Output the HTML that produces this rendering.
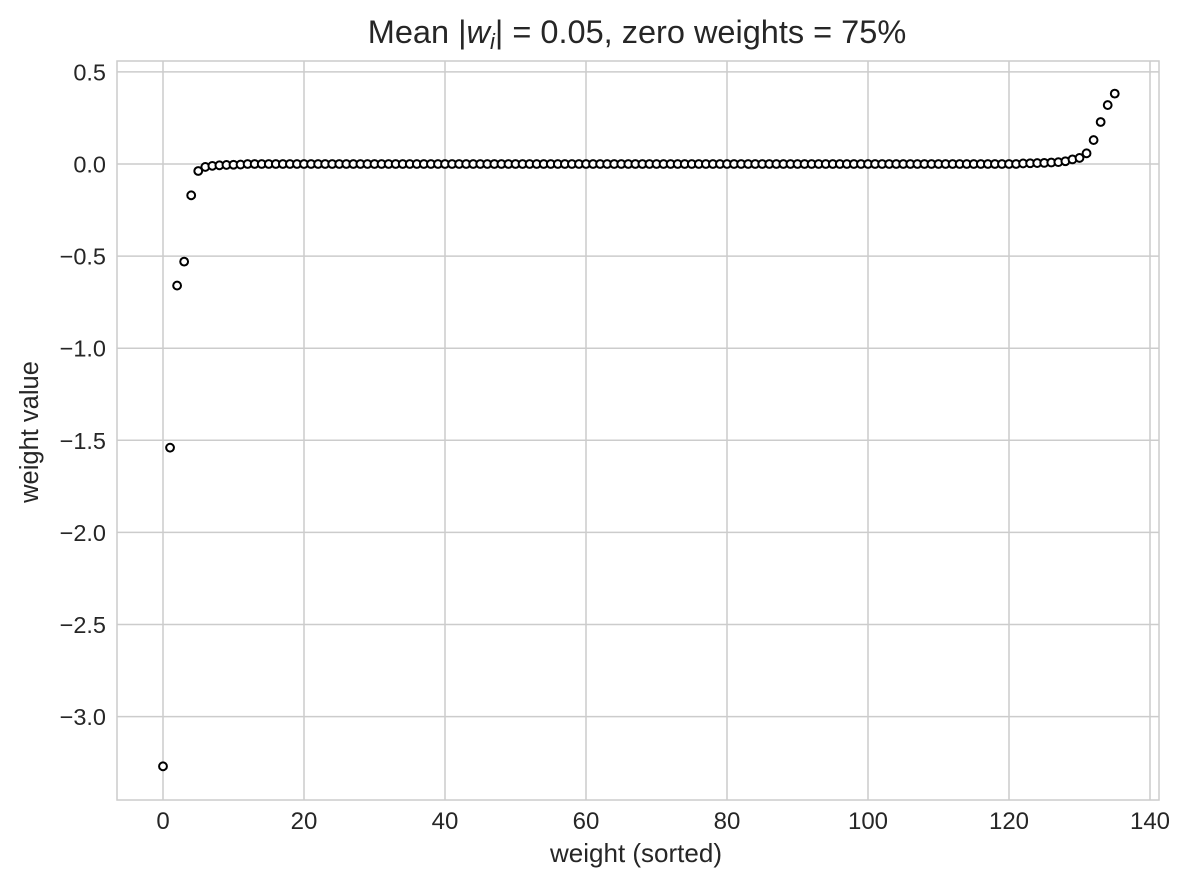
<!DOCTYPE html>
<html><head><meta charset="utf-8"><style>
html,body{margin:0;padding:0;background:#fff;}
svg text{font-family:"Liberation Sans",sans-serif;fill:#262626;}
</style></head><body>
<svg id="chart" width="1186" height="887" xmlns="http://www.w3.org/2000/svg">
<g id="grid"></g>
<g id="ticks"></g>
<rect x="117" y="61" width="1042" height="739" fill="none" stroke="#cccccc" stroke-width="1.5"/>
<g id="points"></g>
<text x="637" y="43" font-size="32.5" text-anchor="middle">Mean |<tspan font-style="italic">w</tspan><tspan font-style="italic" font-size="22" dy="6">i</tspan><tspan dy="-6">| = 0.05, zero weights = 75%</tspan></text>
<text x="636" y="862" font-size="26" text-anchor="middle">weight (sorted)</text>
<text transform="translate(38,432) rotate(-90)" font-size="25.5" text-anchor="middle">weight value</text>
</svg>
<script>
const xTicks=[0,20,40,60,80,100,120,140];
const yTicks=[0.5,0.0,-0.5,-1.0,-1.5,-2.0,-2.5,-3.0];
const yTickLabels=["0.5","0.0","\u22120.5","\u22121.0","\u22121.5","\u22122.0","\u22122.5","\u22123.0"];
const headValues=[-3.27,-1.54,-0.66,-0.53,-0.17,-0.038,-0.016,-0.01,-0.007,-0.005,-0.004,-0.003];
const tailValues=[0.003,0.004,0.005,0.006,0.008,0.01,0.015,0.025,0.033,0.058,0.13,0.228,0.32,0.382];
const midCount=136-headValues.length-tailValues.length;
const midValues=new Array(midCount).fill(0);
const values=headValues.concat(midValues,tailValues);
const X=v=>163+v*7.05;
const Y=v=>164-v*184.2;
const NS="http://www.w3.org/2000/svg";
const grid=document.getElementById('grid'),ticks=document.getElementById('ticks'),pts=document.getElementById('points');
function mk(tag,a,p){const e=document.createElementNS(NS,tag);for(const k in a)e.setAttribute(k,a[k]);p.appendChild(e);return e;}
xTicks.forEach(t=>{
 const l=mk('line',{x1:X(t),x2:X(t),y1:61,y2:800,stroke:'#cccccc','stroke-width':1.5},grid);
 
 
 const tx=mk('text',{x:X(t),y:829,'font-size':24,'text-anchor':'middle'},ticks);tx.textContent=t;
 
 
});
yTicks.forEach((t,i)=>{
 const l=mk('line',{x1:117,x2:1159,y1:Y(t),y2:Y(t),stroke:'#cccccc','stroke-width':1.5},grid);
 
 
 const tx=mk('text',{x:106,y:Y(t)+8.5,'font-size':23.5,'text-anchor':'end'},ticks);tx.textContent=yTickLabels[i];
 
 
});
values.forEach((v,i)=>{
 const c=mk('circle',{cx:X(i),cy:Y(v),r:3.9,fill:'#fff',stroke:'#000','stroke-width':2},pts);
 
 
});
</script>
</body></html>
